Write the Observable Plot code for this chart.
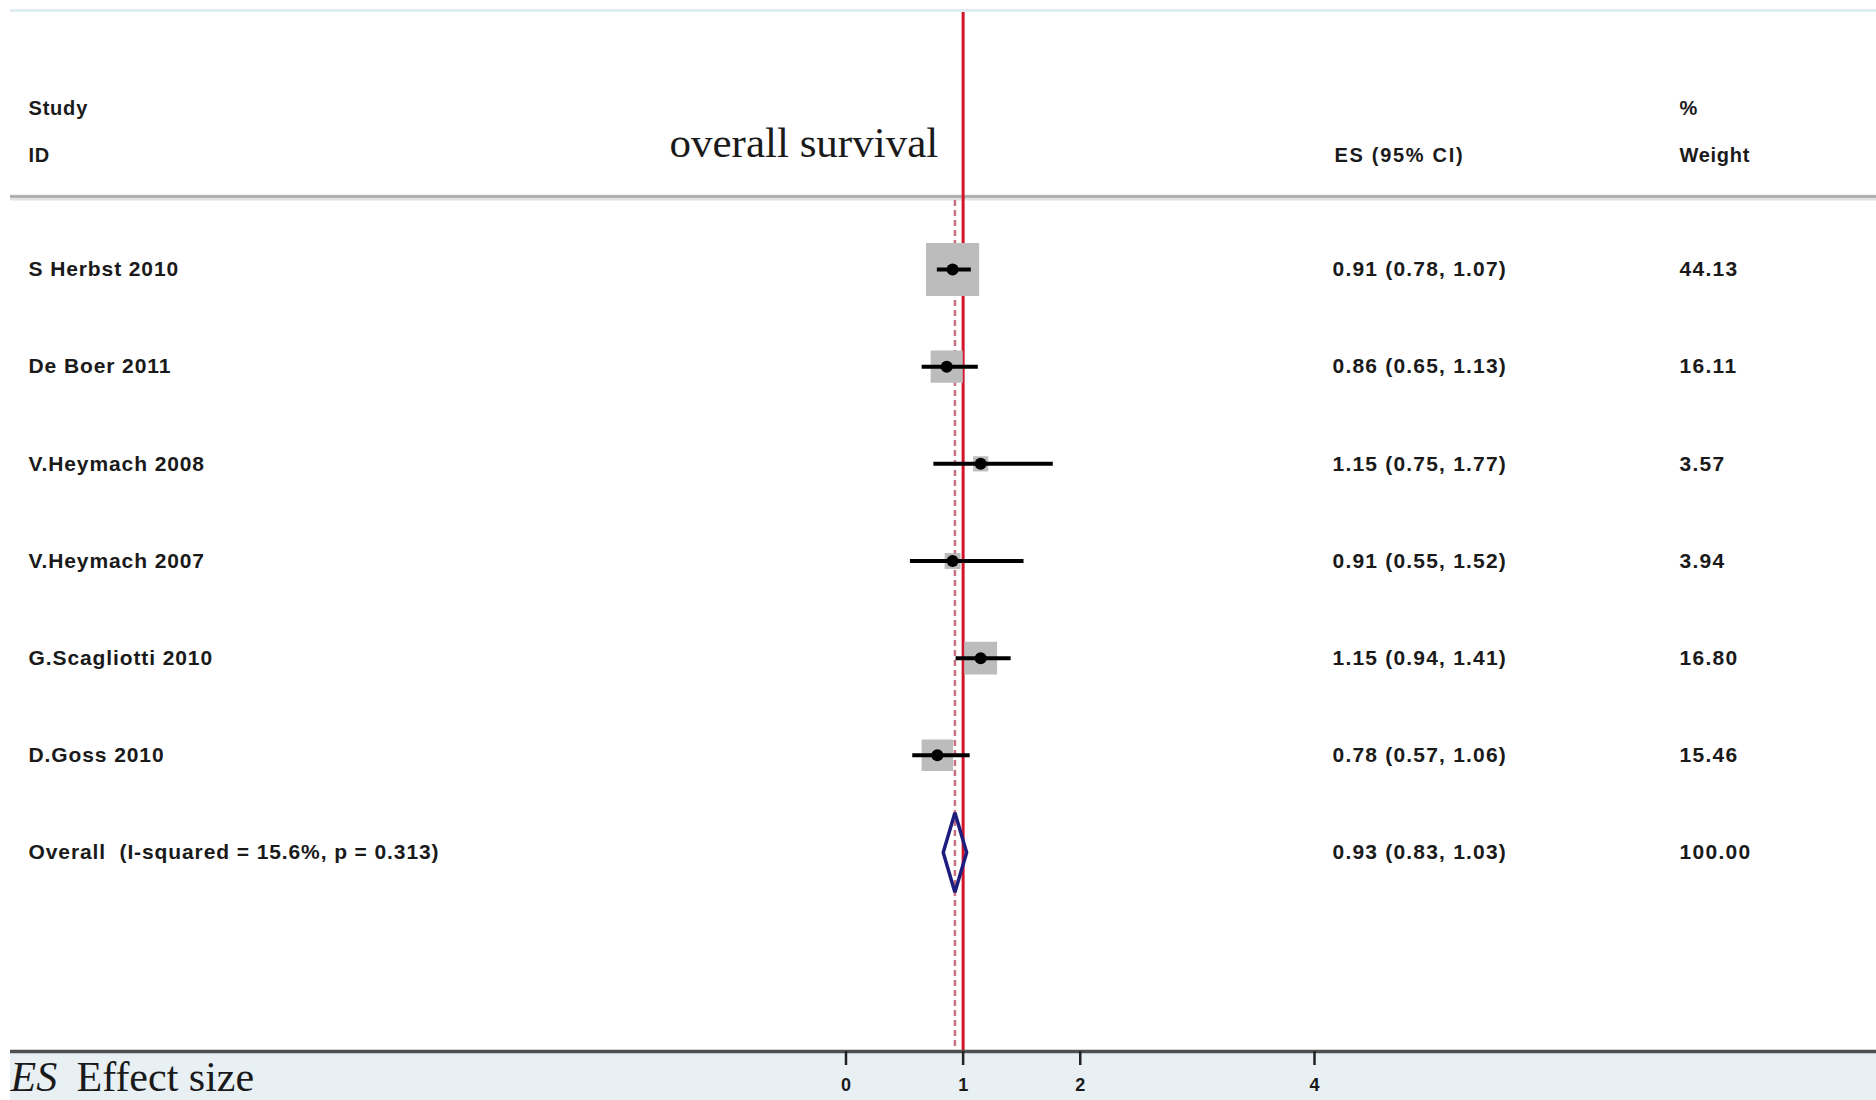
<!DOCTYPE html>
<html>
<head>
<meta charset="utf-8">
<script src="https://cdn.jsdelivr.net/npm/d3@7"></script>
<script src="https://cdn.jsdelivr.net/npm/@observablehq/plot@0.6"></script>
<style>
  html, body { margin: 0; padding: 0; background: #fff; }
  svg text { white-space: pre; }
</style>
</head>
<body>
<div id="chart"></div>
<script>
// ---- data ----
const studies = ["S Herbst 2010", "De Boer 2011", "V.Heymach 2008", "V.Heymach 2007", "G.Scagliotti 2010", "D.Goss 2010"];
const es = [0.91, 0.86, 1.15, 0.91, 1.15, 0.78];
const ciLow = [0.78, 0.65, 0.75, 0.55, 0.94, 0.57];
const ciHigh = [1.07, 1.13, 1.77, 1.52, 1.41, 1.06];
const weights = [44.13, 16.11, 3.57, 3.94, 16.80, 15.46];
const overallLabel = "Overall  (I-squared = 15.6%, p = 0.313)";
const overallES = [0.93];
const overallLow = [0.83];
const overallHigh = [1.03];
const overallWeight = [100.00];
const xTicks = [0, 1, 2, 4];
const nullLine = [1];
const headerStudy = ["Study", "ID"];
const headerES = ["ES (95% CI)"];
const headerWeight = ["%", "Weight"];
const title = "overall survival";
const captionAbbr = "ES";
const captionText = "Effect size";

// ---- tables built from the arrays ----
const rows = studies.map((s, i) => ({
  row: i, label: s, es: es[i], lo: ciLow[i], hi: ciHigh[i], w: weights[i],
  esText: `${es[i].toFixed(2)} (${ciLow[i].toFixed(2)}, ${ciHigh[i].toFixed(2)})`,
  wText: weights[i].toFixed(2)
}));
const overallRow = {
  row: studies.length, label: overallLabel, es: overallES[0], lo: overallLow[0], hi: overallHigh[0],
  esText: `${overallES[0].toFixed(2)} (${overallLow[0].toFixed(2)}, ${overallHigh[0].toFixed(2)})`,
  wText: overallWeight[0].toFixed(2)
};
const allRows = [...rows, overallRow];
const dh = 0.41; // diamond half-height in row units
const diamond = [
  {x: overallRow.lo, y: overallRow.row},
  {x: overallRow.es, y: overallRow.row - dh},
  {x: overallRow.hi, y: overallRow.row},
  {x: overallRow.es, y: overallRow.row + dh},
  {x: overallRow.lo, y: overallRow.row}
];

// layout: pixel rows -> row units
const rowTop = 269, rowBottom = 852, nRows = studies.length;
const rowOf = px => (px - rowTop) / ((rowBottom - rowTop) / nRows);

const sans = "'Liberation Sans', Arial, sans-serif";
const serif = "'Liberation Serif', 'Times New Roman', serif";
const ink = "#1a1a1a";

const chart = Plot.plot({
  width: 1876,
  height: 1100,
  marginTop: 0,
  marginRight: 0,
  marginBottom: 49,
  marginLeft: 10,
  style: {
    fontFamily: sans,
    color: ink,
    background: "linear-gradient(to right, #fff 10px, transparent 10px), linear-gradient(to bottom, #fff 1051px, #e8f0f4 1051px)"
  },
  x: {domain: [0, 4], range: [845.5, 1314]},
  y: {domain: [0, nRows], range: [rowTop, rowBottom], axis: null},
  r: {type: "sqrt", domain: [0, d3.max(weights)], range: [0, 30]},
  marks: [
    Plot.ruleY([rowOf(10)], {stroke: "#dfeef2", strokeWidth: 3}),
    Plot.ruleY([rowOf(197)], {stroke: "#e2e2e2", strokeWidth: 6}),
    Plot.ruleY([rowOf(196)], {stroke: "#a9a9a9", strokeWidth: 2.5}),
    Plot.ruleX(overallES, {y1: rowOf(200), y2: rowOf(1050), stroke: "#c7707f", strokeWidth: 2.5, strokeDasharray: "6,4"}),
    Plot.ruleX(nullLine, {y1: rowOf(12), y2: rowOf(1050), stroke: "#d3152b", strokeWidth: 3}),
    Plot.dot(rows, {x: "es", y: "row", r: "w", symbol: "square", fill: "#bcbcbc"}),
    Plot.ruleY(rows, {y: "row", x1: "lo", x2: "hi", stroke: "#000", strokeWidth: 4}),
    Plot.dot(rows, {x: "es", y: "row", r: 6, fill: "#000", stroke: "none"}),
    Plot.line(diamond, {x: "x", y: "y", stroke: "#1d1d7e", strokeWidth: 3.5, strokeLinejoin: "miter"}),
    Plot.text(allRows, {y: "row", text: "label", frameAnchor: "left", dx: 18, textAnchor: "start", fontSize: 21, fontWeight: "bold", fill: ink}),
    Plot.text(allRows, {y: "row", text: "esText", frameAnchor: "left", dx: 1322, textAnchor: "start", fontSize: 21, fontWeight: "bold", fill: ink}),
    Plot.text(allRows, {y: "row", text: "wText", frameAnchor: "left", dx: 1669, textAnchor: "start", fontSize: 21, fontWeight: "bold", fill: ink}),
    Plot.text(headerStudy, {y: (d, i) => rowOf([108, 155][i]), text: d => d, frameAnchor: "left", dx: 18, textAnchor: "start", fontSize: 20, fontWeight: "bold", fill: ink}),
    Plot.text(headerES, {y: () => rowOf(155.5), text: d => d, frameAnchor: "left", dx: 1324, textAnchor: "start", fontSize: 20, fontWeight: "bold", fill: ink}),
    Plot.text(headerWeight, {y: (d, i) => rowOf([108, 155.5][i]), text: d => d, frameAnchor: "left", dx: 1669, textAnchor: "start", fontSize: 20, fontWeight: "bold", fill: ink}),
    Plot.text([title], {y: () => rowOf(143), text: d => d, frameAnchor: "left", dx: 659, textAnchor: "start", fontSize: 43, fontFamily: serif, fill: ink}),
    Plot.ruleY([rowOf(1051)], {stroke: "#4f4f4f", strokeWidth: 3.5}),
    Plot.axisX(xTicks, {anchor: "bottom", tickSize: 14, tickPadding: 13, fontSize: 18, fontWeight: "bold", stroke: "#222", strokeWidth: 2.5, label: null, tickFormat: d => String(d)}),
    Plot.text([captionAbbr], {y: () => rowOf(1077), text: d => d, frameAnchor: "left", dx: 0, textAnchor: "start", fontSize: 42, fontFamily: serif, fontStyle: "italic", fill: ink}),
    Plot.text([captionText], {y: () => rowOf(1077), text: d => d, frameAnchor: "left", dx: 66, textAnchor: "start", fontSize: 42, fontFamily: serif, fill: ink})
  ]
});

// letter-spacing per column (styling only)
const spacing = new Map();
allRows.forEach(r => { spacing.set(r.label, "0.9px"); spacing.set(r.esText, "1.2px"); spacing.set(r.wText, "1.3px"); });
headerStudy.forEach(t => spacing.set(t, "0.8px"));
headerES.forEach(t => spacing.set(t, "1.7px"));
headerWeight.forEach(t => spacing.set(t, "0.7px"));
d3.select(chart).selectAll("text").each(function () {
  const s = spacing.get(this.textContent);
  if (s) this.setAttribute("letter-spacing", s);
});

document.getElementById("chart").appendChild(chart);
</script>
</body>
</html>
